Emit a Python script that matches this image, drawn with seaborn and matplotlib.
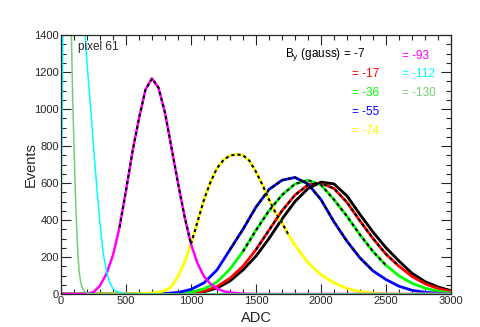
import pandas as pd
import matplotlib
matplotlib.use("Agg")
import matplotlib.pyplot as plt
import seaborn as sns
from matplotlib.ticker import MultipleLocator

sns.set_style("ticks")
plt.rcParams['font.family'] = ['Liberation Sans', 'DejaVu Sans']

# 1. Valeurs (ADC -> nombre d'evenements), une serie par champ B_y
adc_7 = [0, 1000, 1100, 1200, 1300, 1400, 1500, 1600, 1700, 1800, 1900, 2000,
         2100, 2200, 2300, 2400, 2500, 2600, 2700, 2800, 2900, 3000]
ev_7 = [0, 4, 12, 32, 70, 130, 205, 300, 405, 500, 570, 605,
        595, 530, 430, 335, 250, 178, 112, 67, 38, 18]

adc_17 = [0, 1000, 1100, 1200, 1300, 1400, 1500, 1600, 1700, 1800, 1900, 2000,
          2100, 2200, 2300, 2400, 2500, 2600, 2700, 2800, 2900, 3000]
ev_17 = [0, 5, 15, 40, 85, 150, 240, 345, 450, 535, 590, 600,
         570, 495, 395, 300, 215, 150, 95, 55, 30, 14]

adc_36 = [0, 900, 1000, 1100, 1200, 1300, 1400, 1500, 1600, 1700, 1800, 1900,
          2000, 2100, 2200, 2300, 2400, 2500, 2600, 2700, 2800, 2900, 3000]
ev_36 = [0, 3, 10, 28, 65, 135, 230, 345, 450, 535, 595, 615,
         590, 510, 420, 320, 230, 155, 98, 58, 32, 15, 6]

adc_55 = [0, 800, 900, 1000, 1100, 1200, 1300, 1400, 1500, 1600, 1700, 1800,
          1900, 2000, 2100, 2200, 2300, 2400, 2500, 2600, 2700, 2800, 2900, 3000]
ev_55 = [0, 2, 8, 25, 60, 130, 240, 350, 470, 565, 615, 630,
         595, 510, 390, 285, 195, 125, 78, 42, 20, 9, 4, 1]

adc_74 = [0, 600, 700, 750, 800, 850, 900, 950, 1000, 1050, 1100, 1150, 1200,
          1250, 1300, 1350, 1400, 1450, 1500, 1550, 1600, 1650, 1700, 1750,
          1800, 1850, 1900, 1950, 2000, 2100, 2200, 2300, 2400, 2500, 2600, 3000]
ev_74 = [0, 2, 5, 10, 18, 40, 95, 170, 270, 390, 510, 605, 680,
         725, 748, 755, 750, 720, 660, 590, 510, 440, 385, 320,
         265, 215, 170, 135, 105, 60, 30, 12, 5, 1, 0, 0]

adc_93 = [0, 150, 200, 250, 300, 350, 400, 450, 500, 550, 600, 650, 700, 750,
          800, 850, 900, 950, 1000, 1050, 1100, 1150, 1200, 1250, 1300, 1400,
          1500, 3000]
ev_93 = [0, 0, 2, 10, 45, 110, 210, 360, 560, 770, 950, 1105, 1165, 1115,
         980, 790, 600, 420, 270, 165, 95, 55, 30, 15, 8, 2,
         0, 0]

adc_112 = [0, 15, 30, 150, 185, 200, 225, 250, 275, 300, 325, 350, 375, 400,
           425, 450, 500, 600, 3000]
ev_112 = [350, 1500, 3000, 3000, 1400, 1250, 1030, 800, 580, 380, 220, 120, 60, 30,
          15, 7, 2, 0, 0]

adc_130 = [0, 50, 80, 90, 100, 110, 120, 130, 140, 150, 160, 175, 200, 250, 3000]
ev_130 = [3000, 3000, 1400, 1050, 800, 560, 370, 210, 120, 70, 40, 18, 5, 0, 0]

champs = ["-7", "-17", "-36", "-55", "-74", "-93", "-112", "-130"]
couleurs = ["black", "#ff0000", "#00ff00", "#0000ff", "#ffff00", "#ff00ff",
            "#00ffff", "#77cc77"]
epaisseurs = [2.0, 2.0, 2.0, 2.0, 2.0, 1.8, 1.1, 1.1]
# plage des ajustements (pointilles noirs)
fit_min = [1500, 1500, 1400, 1300, 1000, 450, None, None]
fit_max = [2700, 2650, 2500, 2400, 1760, 1000, None, None]

liste_adc = [adc_7, adc_17, adc_36, adc_55, adc_74, adc_93, adc_112, adc_130]
liste_ev = [ev_7, ev_17, ev_36, ev_55, ev_74, ev_93, ev_112, ev_130]

frames = []
for nom, a, e in zip(champs, liste_adc, liste_ev):
    frames.append(pd.DataFrame({"ADC": a, "Events": e, "By": nom}))
data = pd.concat(frames, ignore_index=True)

fits = []
for nom, lo, hi in zip(champs, fit_min, fit_max):
    if lo is None:
        continue
    sel = data[(data["By"] == nom) & (data["ADC"] >= lo) & (data["ADC"] <= hi)]
    fits.append(sel)
data_fit = pd.concat(fits, ignore_index=True)

# 2. Figure
fig = plt.figure(figsize=(4.8, 3.27), dpi=100)
ax = fig.add_axes([61/480, 1-294/327, 390/480, 259/327])

sns.lineplot(data=data, x="ADC", y="Events", hue="By", hue_order=champs,
             palette=couleurs, size="By", size_order=champs,
             sizes=dict(zip(champs, epaisseurs)),
             estimator=None, legend=False, ax=ax)
sns.lineplot(data=data_fit, x="ADC", y="Events", units="By", estimator=None,
             color="black", lw=1.5, linestyle=(0, (1.5, 1.5)), ax=ax)

ax.set_xlim(0, 3000)
ax.set_ylim(0, 1400)
ax.xaxis.set_major_locator(MultipleLocator(500))
ax.xaxis.set_minor_locator(MultipleLocator(100))
ax.yaxis.set_major_locator(MultipleLocator(200))
ax.yaxis.set_minor_locator(MultipleLocator(50))
ax.tick_params(which="both", direction="in", top=True, right=True,
               labelsize=8, pad=1.5, width=0.8)
ax.tick_params(which="major", length=7)
ax.tick_params(which="minor", length=3.5)
for s in ax.spines.values():
    s.set_linewidth(0.9)

ax.set_xlabel("ADC", fontsize=10.5, labelpad=3.5)
ax.set_ylabel("Events", fontsize=10.5, labelpad=-2.5)

# 3. Textes
fig.text(78/480, 1-47/327, "pixel 61", fontsize=8.5, va="center")
fig.text(285/480, 1-55/327, r"B$_\mathregular{y}$ (gauss) = -7", fontsize=8.5,
         va="center", color="black")
pos_txt = {"-93": (402, 56), "-17": (352, 74), "-112": (402, 74),
           "-36": (352, 93), "-130": (402, 93), "-55": (352, 112),
           "-74": (352, 131)}
for nom, c in zip(champs, couleurs):
    if nom in pos_txt:
        px, py = pos_txt[nom]
        fig.text(px/480, 1-py/327, "= " + nom, fontsize=8.5, va="center", color=c)

plt.savefig("out.png", dpi=100)
plt.close()
